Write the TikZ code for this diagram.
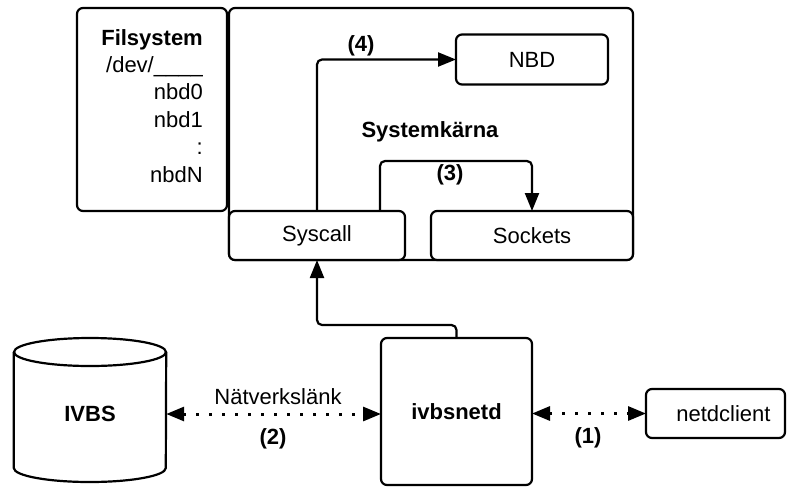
\documentclass[tikz,border=0pt]{standalone}
\usepackage{fontspec}
\setmainfont{Liberation Sans}
\usetikzlibrary{arrows.meta}
\begin{document}
\fontsize{22}{27.4}\selectfont
\begin{tikzpicture}[x=1pt,y=-1pt,
  box/.style={draw, line width=2.2pt, rounded corners=6pt, inner sep=0pt, outer sep=0pt, fill=white},
  conn/.style={line width=2.2pt, rounded corners=5pt, -{Triangle[length=18pt,width=14pt]}},
  dotconn/.style={line width=3pt, line cap=butt, dash pattern=on 3pt off 10pt,
    {Triangle[length=18pt,width=14pt]}-{Triangle[length=18pt,width=14pt]}},
  lbl/.style={font=\bfseries, inner sep=0pt},
  txt/.style={inner sep=0pt}]
\useasboundingbox (0,0) rectangle (787,488);

% Filsystem
\node[box, minimum width=150pt, minimum height=203pt] (fs) at (152,109.5) {};
\node[txt, anchor=north east, align=right] (fstext) at (203,29)
  {\textbf{Filsystem}\\ /dev/\_\_\_\_\\ nbd0\\ nbd1\\ :\\ nbdN};

% Kernel
\node[box, minimum width=404pt, minimum height=252pt] (kern) at (431,134) {};
\node[lbl] (kernlbl) at (430,132) {Systemkärna};
\node[box, minimum width=176pt, minimum height=49pt] (syscall) at (317,235.5) {Syscall};
\node[box, minimum width=202pt, minimum height=49pt] (sockets) at (532,235.5) {Sockets};
\node[box, minimum width=152pt, minimum height=50pt] (nbd) at (532,59.5) {NBD};

% bottom
\node[box, minimum width=151pt, minimum height=147pt] (ivbsnetd) at (456.5,411.5) {\textbf{ivbsnetd}};
\node[box, minimum width=139pt, minimum height=49pt, text width=110pt, align=right] (netd) at (715.5,413.5) {netdclient};

% IVBS cylinder
\node[txt, minimum width=152pt, minimum height=110pt] (ivbs) at (90,414) {\textbf{IVBS}};
\draw[line width=2.2pt] (ivbs.west |- 0,352) -- (ivbs.west |- 0,468)
  arc[start angle=180, end angle=360, x radius=76pt, y radius=14pt]
  -- (ivbs.east |- 0,352);
\draw[line width=2.2pt] (90,352) ellipse [x radius=76pt, y radius=14pt];

% connectors
\draw[conn] (syscall.north) |- (nbd.west);
\node[lbl] (l4) at (361,46) {(4)};
\draw[conn] ([xshift=-25pt]syscall.north east) -- ++(0,-50) -| (sockets.north);
\node[lbl] (l3) at (450,175) {(3)};
\draw[conn] (ivbsnetd.north) -- ++(0,-13) -| (syscall.south);

\draw[dotconn] (ivbs.east) -- (ivbs.east -| ivbsnetd.west);
\node[txt] (nl) at (278,397) {Nätverkslänk};
\node[lbl] (l2) at (273,439) {(2)};
\draw[dotconn] (netd.west -| ivbsnetd.east) -- (netd.west);
\node[lbl] (l1) at (588,438) {(1)};
\end{tikzpicture}
\end{document}
